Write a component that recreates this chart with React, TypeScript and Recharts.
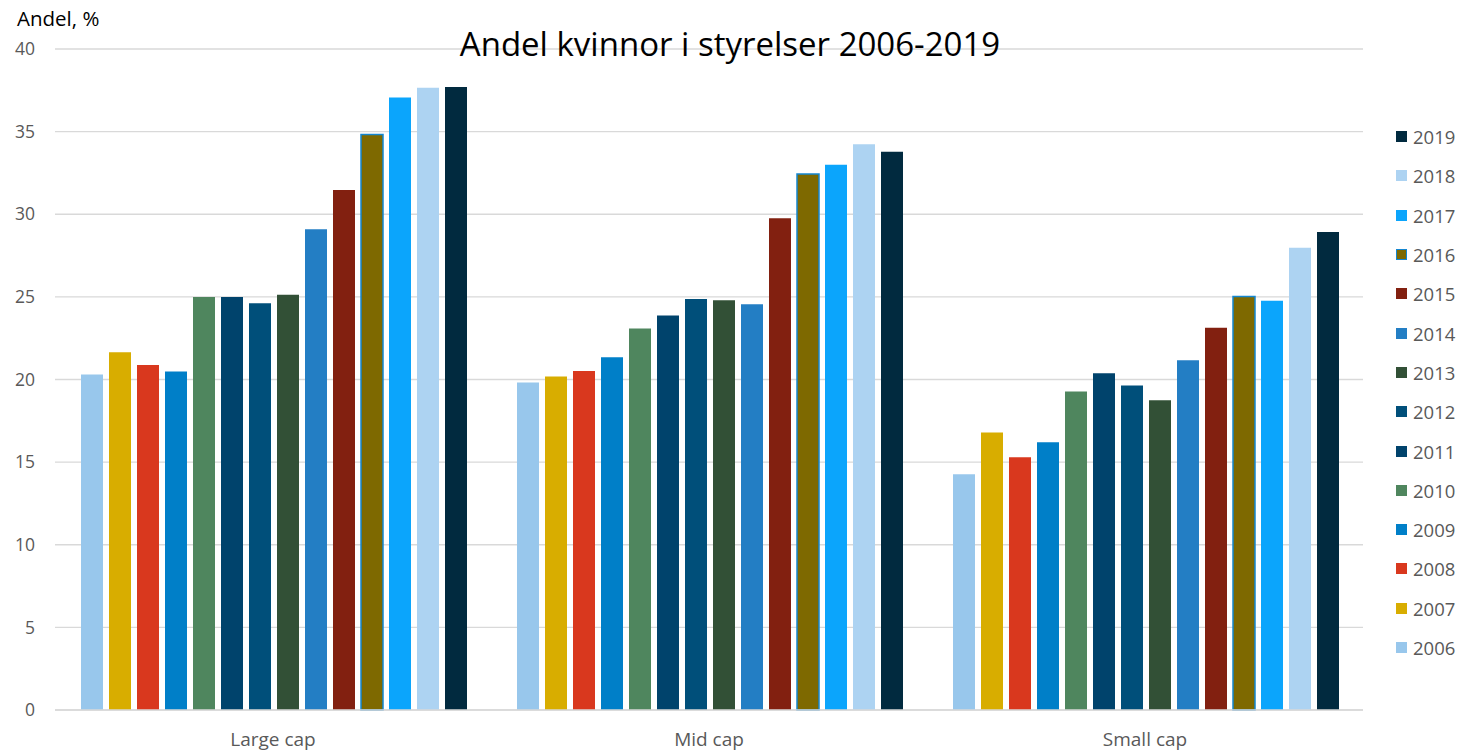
import React from 'react';
import { BarChart, Bar, XAxis, YAxis, CartesianGrid, Legend } from 'recharts';

const categories = ['Large cap', 'Mid cap', 'Small cap'];
const years = ['2006', '2007', '2008', '2009', '2010', '2011', '2012', '2013', '2014', '2015', '2016', '2017', '2018', '2019'];
const largeCap = [20.3, 21.65, 20.87, 20.48, 25.0, 25.0, 24.62, 25.13, 29.09, 31.47, 34.83, 37.07, 37.65, 37.7];
const midCap = [19.82, 20.18, 20.52, 21.35, 23.09, 23.88, 24.87, 24.8, 24.55, 29.76, 32.44, 32.99, 34.24, 33.78];
const smallCap = [14.27, 16.79, 15.29, 16.2, 19.27, 20.38, 19.64, 18.75, 21.17, 23.13, 25.03, 24.76, 27.98, 28.93];
const yTicks = [0, 5, 10, 15, 20, 25, 30, 35, 40];
const colors = ['#98c7ec', '#d8ad00', '#d9381e', '#007fc8', '#4f865e', '#00436c', '#004f7a', '#325036', '#237ec4', '#822010', '#7e6900', '#0ba5fc', '#add3f2', '#012a3f'];
const strokes: Record<string, string> = { '2016': '#1486d0' };

const seriesByCategory = [largeCap, midCap, smallCap];
const data = categories.map((name, ci) => {
  const row: Record<string, number | string> = { name };
  years.forEach((y, yi) => {
    row[y] = seriesByCategory[ci][yi];
  });
  return row;
});

const FONT = '"Open Sans", "Noto Sans", sans-serif';

const renderLegend = (props: any) => {
  const payload = [...(props.payload || [])].reverse();
  return (
    <div style={{ fontFamily: FONT }}>
      {payload.map((entry: any) => {
        const key = String(entry.value);
        const border = strokes[key];
        return (
          <div key={key} style={{ display: 'flex', alignItems: 'center', height: 39.3 }}>
            <div
              style={{
                width: 11,
                height: 11,
                background: entry.color,
                boxSizing: 'border-box',
                border: border ? `1.5px solid ${border}` : 'none',
                marginRight: 6,
              }}
            />
            <span style={{ fontSize: 18.5, color: '#595959' }}>{key}</span>
          </div>
        );
      })}
    </div>
  );
};

export default function App() {
  return (
    <div style={{ position: 'absolute', left: 0, top: 0, width: 1463, height: 752, background: '#fff', fontFamily: FONT }}>
      <BarChart
        width={1463}
        height={752}
        data={data}
        margin={{ top: 49, right: 100, bottom: 0, left: 0 }}
        barCategoryGap={26}
        barGap={6}
      >
        <CartesianGrid vertical={false} stroke="#d9d9d9" strokeWidth={1.3} />
        <XAxis
          dataKey="name"
          height={42}
          tickLine={false}
          axisLine={{ stroke: '#d9d9d9', strokeWidth: 1.3 }}
          tick={{ fill: '#595959', fontSize: 19, fontFamily: FONT }}
          tickMargin={17}
        />
        <YAxis
          width={55}
          domain={[0, 40]}
          ticks={yTicks}
          interval={0}
          tickLine={false}
          axisLine={false}
          tick={{ fill: '#595959', fontSize: 17.5, fontFamily: FONT }}
          tickMargin={14}
        />
        <Legend
          layout="vertical"
          align="center"
          verticalAlign="middle"
          content={renderLegend}
          wrapperStyle={{ position: 'absolute', left: 1396, top: 117, width: 67, height: 560 }}
        />
        {years.map((y, i) => (
          <Bar
            key={y}
            dataKey={y}
            name={y}
            fill={colors[i]}
            stroke={strokes[y] || 'none'}
            strokeWidth={strokes[y] ? 1.5 : 0}
            isAnimationActive={false}
          />
        ))}
      </BarChart>
      <div
        style={{
          position: 'absolute',
          left: 17,
          top: 4,
          fontSize: 20.5,
          color: '#000',
          fontFamily: FONT,
        }}
      >
        Andel, %
      </div>
      <div
        style={{
          position: 'absolute',
          left: 0,
          width: 1463,
          top: 24,
          textAlign: 'center',
          pointerEvents: 'none',
        }}
      >
        <span
          style={{
            display: 'inline-block',
            marginLeft: -3,
            fontSize: 33,
            lineHeight: '40px',
            color: '#000',
            fontFamily: FONT,
          }}
        >
          Andel kvinnor i styrelser 2006-2019
        </span>
      </div>
    </div>
  );
}
